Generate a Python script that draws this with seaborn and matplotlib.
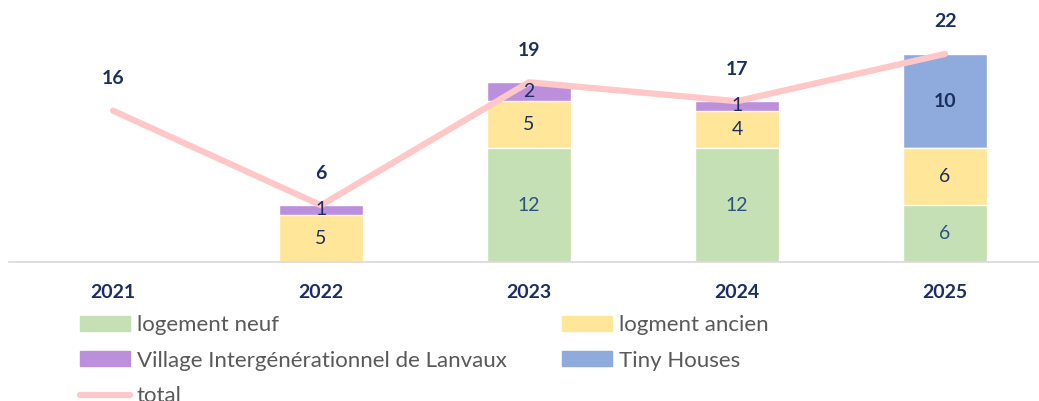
import numpy as np
import pandas as pd
import seaborn as sns
import matplotlib.pyplot as plt
from matplotlib.patches import Patch
from matplotlib.lines import Line2D

years = ['2021', '2022', '2023', '2024', '2025']
neuf = [0, 0, 12, 12, 6]
ancien = [0, 5, 5, 4, 6]
village = [0, 1, 2, 1, 0]
tiny = [0, 0, 0, 0, 10]
totals = [16, 6, 19, 17, 22]

c_neuf = '#C5E0B4'
c_ancien = '#FFE699'
c_village = '#BC8FDC'
c_tiny = '#8FAADC'
c_total = '#FFC7C7'
navy = '#1B2F5E'

sns.set_theme(style='white')
plt.rcParams['font.family'] = ['Lato', 'DejaVu Sans']

df = pd.DataFrame({'year': years, 'neuf': neuf, 'ancien': ancien,
                   'village': village, 'tiny': tiny, 'total': totals})
df['s1'] = df['neuf']
df['s2'] = df['s1'] + df['ancien']
df['s3'] = df['s2'] + df['village']
df['s4'] = df['s3'] + df['tiny']

fig = plt.figure(figsize=(10.39, 4.01), dpi=100)
ax = fig.add_axes([9 / 1039, 139 / 401, 1040 / 1039, 262 / 401])

# stacked bars: draw cumulative totals from the top layer down
for col, color in [('s4', c_tiny), ('s3', c_village), ('s2', c_ancien), ('s1', c_neuf)]:
    sns.barplot(data=df, x='year', y=col, color=color, width=0.4,
                saturation=1, ax=ax, zorder=2)

sns.lineplot(x=np.arange(len(years)), y=totals, color=c_total, linewidth=4.5,
             solid_capstyle='round', ax=ax, zorder=3)

# segment labels
for i in range(len(years)):
    base = 0
    for vals, col, bold in [(neuf, '#2E5280', False), (ancien, navy, False),
                            (village, navy, False), (tiny, navy, True)]:
        v = vals[i]
        if v > 0:
            ax.text(i, base + v / 2, str(v), ha='center', va='center',
                    fontsize=14, color=col, zorder=4,
                    fontweight='bold' if bold else 'normal')
        base += v
    ax.annotate(str(totals[i]), (i, totals[i]), xytext=(0, 23),
                textcoords='offset points', ha='center', va='center',
                fontsize=14, fontweight='bold', color=navy, zorder=4)

ax.set_xlim(-0.5, 4.5)
ax.set_ylim(0, 27.7)
ax.set_xlabel('')
ax.set_ylabel('')
ax.set_yticks([])
ax.tick_params(axis='x', length=0, pad=16)
for lbl in ax.get_xticklabels():
    lbl.set_fontweight('bold')
    lbl.set_fontsize(14)
    lbl.set_color(navy)
for s in ['top', 'left', 'right']:
    ax.spines[s].set_visible(False)
ax.spines['bottom'].set_color('#D9D9D9')
ax.spines['bottom'].set_linewidth(1.2)

handles = [Patch(color=c_neuf), Patch(color=c_village),
           Line2D([], [], color=c_total, linewidth=4.5, solid_capstyle='round'),
           Patch(color=c_ancien), Patch(color=c_tiny)]
labels = ['logement neuf', 'Village Intergénérationnel de Lanvaux', 'total',
          'logment ancien', 'Tiny Houses']
fig.legend(handles, labels, ncol=2, frameon=False, loc='upper left',
           bbox_to_anchor=(80 / 1039, 1 - 315 / 401), fontsize=16,
           labelcolor='#595959', handlelength=2.25, handleheight=0.65,
           handletextpad=0.3, columnspacing=2.5, labelspacing=0.7,
           borderaxespad=0, borderpad=0)

fig.savefig('out.png', dpi=100)
